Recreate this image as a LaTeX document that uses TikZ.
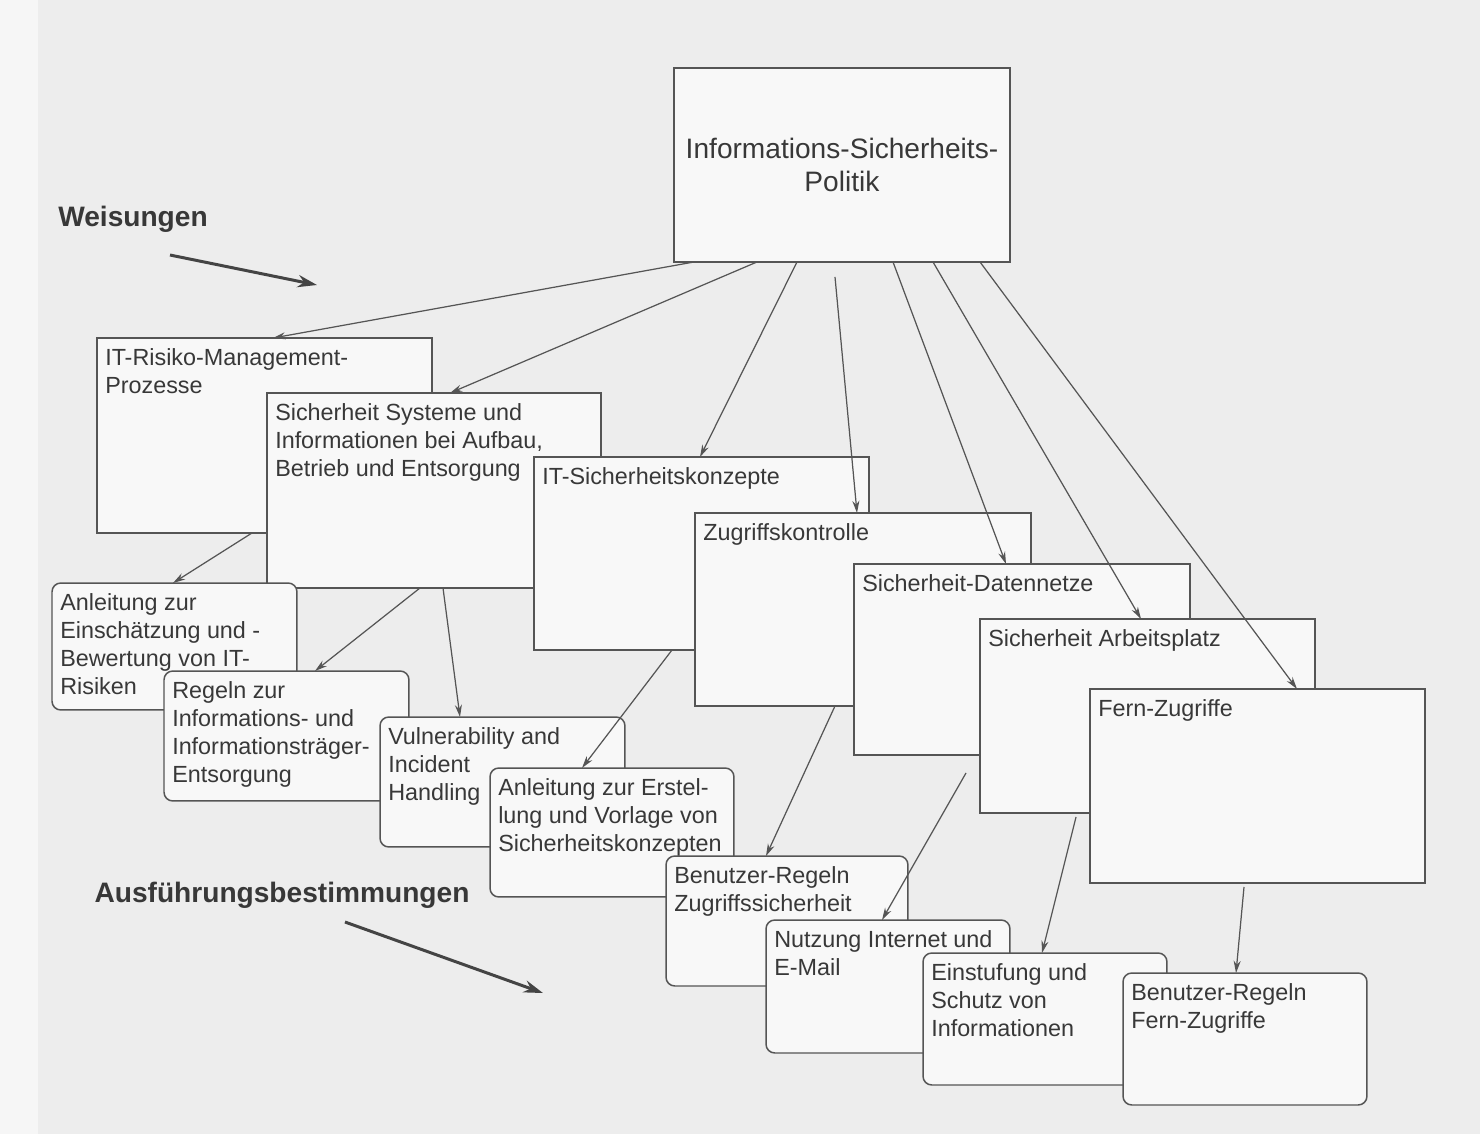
\documentclass[tikz,border=0pt]{standalone}
\usepackage{fontspec}
\setmainfont{Liberation Sans}
\usepackage{tikz}
\usetikzlibrary{arrows.meta,calc}
\definecolor{scanPaper}{HTML}{EDEDED}
\definecolor{scanMargin}{HTML}{F6F6F6}
\definecolor{scanBox}{HTML}{F8F8F8}
\definecolor{scanLine}{HTML}{555555}
\definecolor{scanText}{HTML}{383838}

\begin{document}
\begin{tikzpicture}[x=0.02cm,y=-0.02cm,
    every node/.style={text=scanText},
    topbox/.style={draw=scanLine, fill=scanBox, line width=0.85pt, inner sep=0pt, outer sep=0pt, anchor=north west},
    subbox/.style={topbox, rounded corners=5pt},
    boxtext/.style={anchor=north west, align=left, inner xsep=4.5pt, inner ysep=6pt, font=\fontsize{13.3}{15.8}\selectfont},
    flow/.style={draw=scanLine, line width=0.7pt, -{Stealth[length=7pt,width=4pt]}},
    bigflow/.style={draw=scanLine!80!black, line width=1.7pt, -{Stealth[length=11pt,width=7pt]}},
    heading/.style={font=\bfseries\fontsize{16}{19}\selectfont}]
    \useasboundingbox (0,0) rectangle (1480,1134);
    \fill[scanPaper] (0,0) rectangle (1480,1134);
    \fill[scanMargin] (0,0) rectangle (38,1134);

    % Politik
    \node[topbox, align=center, font=\fontsize{16}{19.3}\selectfont, minimum width=6.72cm, minimum height=3.88cm] (politik) at (674,68) {Informations-Sicherheits-\\Politik};

    % Weisungen
    \node[topbox, minimum width=6.70cm, minimum height=3.90cm, label={[boxtext]north west:{IT-Risiko-Management-\\Prozesse}}] (risiko) at (97,338) {};
    \node[topbox, minimum width=6.68cm, minimum height=3.90cm, label={[boxtext]north west:{Sicherheit Systeme und\\Informationen bei Aufbau,\\Betrieb und Entsorgung}}] (systeme) at (267,393) {};
    \node[topbox, minimum width=6.70cm, minimum height=3.86cm, label={[boxtext]north west:{IT-Sicherheitskonzepte}}] (konzepte) at (534,457) {};
    \node[topbox, minimum width=6.72cm, minimum height=3.86cm, label={[boxtext]north west:{Zugriffskontrolle}}] (zugriff) at (695,513) {};
    \node[topbox, minimum width=6.72cm, minimum height=3.82cm, label={[boxtext]north west:{Sicherheit-Datennetze}}] (datennetze) at (854,564) {};
    \node[topbox, minimum width=6.70cm, minimum height=3.88cm, label={[boxtext]north west:{Sicherheit Arbeitsplatz}}] (arbeitsplatz) at (980,619) {};
    \node[topbox, minimum width=6.70cm, minimum height=3.88cm, label={[boxtext]north west:{Fern-Zugriffe}}] (fern) at (1090,689) {};

    % Ausfuehrungsbestimmungen
    \node[subbox, minimum width=4.90cm, minimum height=2.54cm, label={[boxtext]north west:{Anleitung zur\\Einschätzung und -\\Bewertung von IT-\\Risiken}}] (anlRisiken) at (52,583) {};
    \node[subbox, minimum width=4.90cm, minimum height=2.60cm, label={[boxtext]north west:{Regeln zur\\Informations- und\\Informationsträger-\\Entsorgung}}] (entsorgung) at (164,671) {};
    \node[subbox, minimum width=4.90cm, minimum height=2.60cm, label={[boxtext]north west:{Vulnerability and\\Incident\\Handling}}] (vulner) at (380,717) {};
    \node[subbox, minimum width=4.88cm, minimum height=2.58cm, label={[boxtext]north west:{Anleitung zur Erstel-\\lung und Vorlage von\\Sicherheitskonzepten}}] (anlKonzepte) at (490,768) {};
    \node[subbox, minimum width=4.84cm, minimum height=2.60cm, label={[boxtext]north west:{Benutzer-Regeln\\Zugriffssicherheit}}] (regZugriff) at (666,856) {};
    \node[subbox, minimum width=4.88cm, minimum height=2.66cm, label={[boxtext]north west:{Nutzung Internet und\\E-Mail}}] (internet) at (766,920) {};
    \node[subbox, minimum width=4.88cm, minimum height=2.64cm, label={[boxtext]north west:{Einstufung und\\Schutz von\\Informationen}}] (einstufung) at (923,953) {};
    \node[subbox, minimum width=4.88cm, minimum height=2.64cm, label={[boxtext]north west:{Benutzer-Regeln\\Fern-Zugriffe}}] (regFern) at (1123,973) {};

    % Politik -> Weisungen
    \draw[flow] ($(politik.south west)+(20,0)$) -- ($(risiko.north west)+(176,0)$);
    \draw[flow] ($(politik.south west)+(83,0)$) -- ($(systeme.north west)+(183,0)$);
    \draw[flow] ($(politik.south west)+(123,0)$) -- ($(konzepte.north west)+(166,0)$);
    \draw[flow] ($(politik.south west)+(161,15)$) -- ($(zugriff.north west)+(162,0)$);
    \draw[flow] ($(politik.south west)+(219,0)$) -- ($(datennetze.north west)+(152,0)$);
    \draw[flow] ($(politik.south west)+(259,0)$) -- ($(arbeitsplatz.north west)+(161,0)$);
    \draw[flow] ($(politik.south west)+(306,0)$) -- ($(fern.north west)+(207,0)$);

    % Weisungen -> Ausfuehrungsbestimmungen
    \draw[flow] ($(risiko.south west)+(155,0)$) -- ($(anlRisiken.north west)+(121,0)$);
    \draw[flow] ($(systeme.south west)+(153,0)$) -- ($(entsorgung.north west)+(151,0)$);
    \draw[flow] ($(systeme.south west)+(176,0)$) -- ($(vulner.north west)+(80,0)$);
    \draw[flow] ($(konzepte.south west)+(138,0)$) -- ($(anlKonzepte.north west)+(92,0)$);
    \draw[flow] ($(zugriff.south west)+(140,0)$) -- ($(regZugriff.north west)+(100,0)$);
    \draw[flow] ($(datennetze.south west)+(112,18)$) -- ($(internet.north west)+(116,0)$);
    \draw[flow] ($(arbeitsplatz.south west)+(96,4)$) -- ($(einstufung.north west)+(119,0)$);
    \draw[flow] ($(fern.south west)+(154,4)$) -- ($(regFern.north west)+(113,0)$);

    % Ebenen
    \node[heading] (weisungen) at (133,219) {Weisungen};
    \coordinate (wTip) at (317,285);
    \draw[bigflow] ($(weisungen.center)+(37,36)$) -- (wTip);
    \node[heading] (ausfuehrung) at (282,895) {Ausführungsbestimmungen};
    \coordinate (aTip) at (543,993);
    \draw[bigflow] ($(ausfuehrung.center)+(63,27)$) -- (aTip);
\end{tikzpicture}
\end{document}
